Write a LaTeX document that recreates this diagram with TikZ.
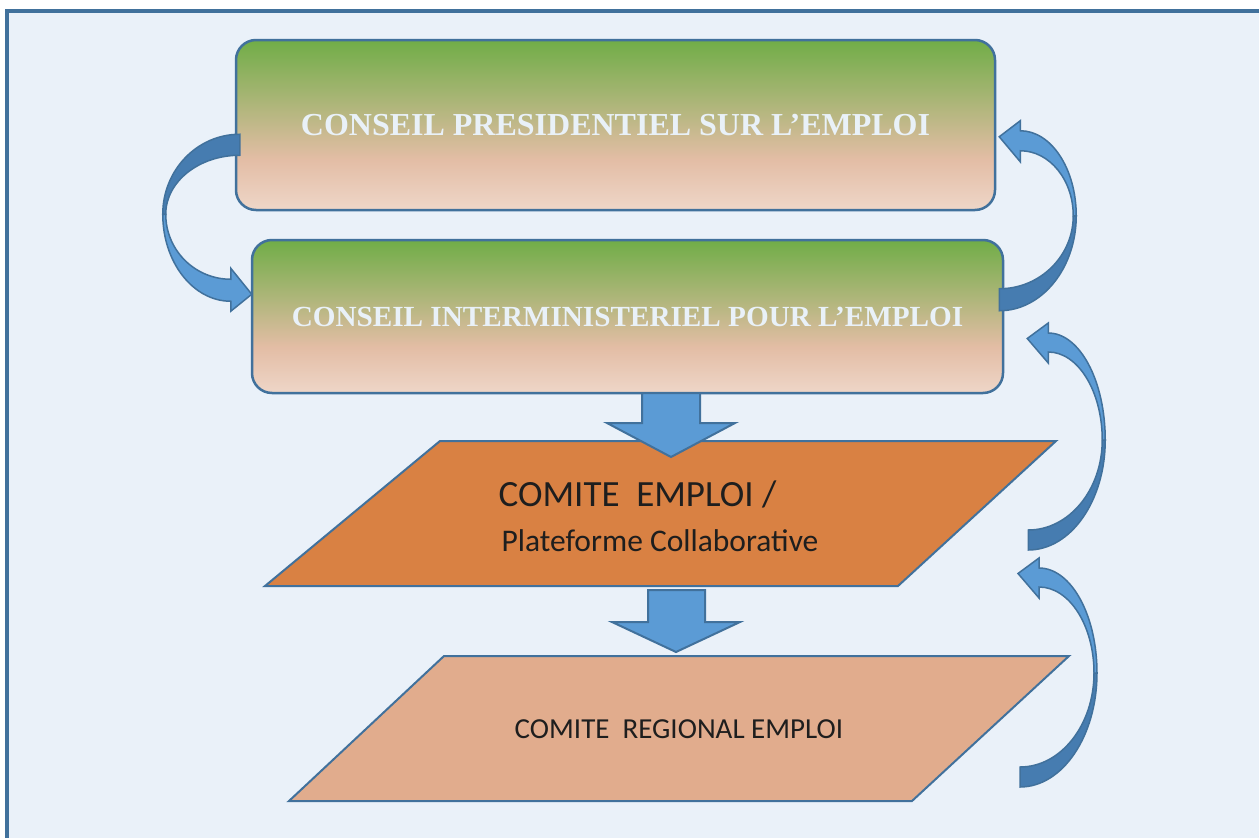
\documentclass[tikz,border=0pt]{standalone}
\usepackage{fontspec}
\setmainfont{Liberation Serif}
\newfontfamily\calibri{Carlito}
\usetikzlibrary{calc}

\definecolor{framefill}{RGB}{234,241,249}
\definecolor{lineblue}{RGB}{65,113,156}
\definecolor{arrowblue}{RGB}{91,155,213}
\definecolor{arrowshade}{RGB}{70,124,176}
\definecolor{leafgreen}{RGB}{112,173,71}
\definecolor{peach}{RGB}{227,189,165}
\definecolor{peachpale}{RGB}{238,214,200}
\definecolor{orangefill}{RGB}{217,129,67}
\definecolor{tanfill}{RGB}{225,172,141}
\definecolor{titlewhite}{RGB}{233,241,248}
\definecolor{textdark}{RGB}{30,30,30}

\pgfdeclareverticalshading{greenpeach}{100bp}{color(0bp)=(peachpale); color(25bp)=(peachpale); color(40bp)=(peach); color(75bp)=(leafgreen); color(100bp)=(leafgreen)}

\tikzset{
  titlebox/.style={draw=lineblue, line width=2.5, rounded corners=20, shading=greenpeach,
    text=titlewhite, font=\bfseries},
  blockarrow/.style={fill=arrowblue, draw=lineblue, line width=2},
  % curved block arrow: #1/#2 outer/inner radius of the tail half,
  % #3/#4 outer/inner radius of the head half, #5 offset of the head base
  pics/bentarrow/.style n args={5}{code={
    \filldraw[fill=arrowshade, draw=lineblue, line width=1.5] (0,#1) arc[start angle=90, end angle=0, x radius=77, y radius=#1] -- (74,0) arc[start angle=0, end angle=90, x radius=74, y radius=#2] -- cycle;
    \filldraw[fill=arrowblue, draw=lineblue, line width=1.5] (77,0) arc[start angle=0, end angle=-90, x radius={77-#5}, y radius=#3] -- (#5,-#3-10) -- (#5-21,{-(#3+#4)/2-4}) -- (#5,-#4+11) -- (#5,-#4) arc[start angle=-90, end angle=0, x radius={74-#5}, y radius=#4] -- cycle;
  }}
}

\begin{document}
\begin{tikzpicture}[x=1pt,y=1pt,yscale=-1]
\useasboundingbox (0,0) rectangle (1259,838);

%Shape: Frame
\draw[draw=lineblue, line width=3.5, fill=framefill] (7,11) rectangle (1275,850);

%Shape: Rounded Rectangles
\node[titlebox, minimum width=759, minimum height=170, font=\bfseries\fontsize{32}{38}\selectfont] (cpe) at (615.5,125) {CONSEIL PRESIDENTIEL SUR L’EMPLOI};
\node[titlebox, minimum width=751, minimum height=153, font=\bfseries\fontsize{29.2}{35}\selectfont] (cip) at (627.5,316.5) {CONSEIL INTERMINISTERIEL POUR L’EMPLOI};

%Shape: Parallelograms
\draw[draw=lineblue, line width=2, fill=orangefill] (440,441) -- (1056,441) -- (898,586) -- (265,586) -- cycle;
\draw[draw=lineblue, line width=2, fill=tanfill] (444,656) -- (1069,656) -- (912,801) -- (289,801) -- cycle;

%Shape: Down Arrows
\filldraw[blockarrow] (642,393) -- (700,393) -- (700,423) -- (735,423) -- (671,457) -- (607,423) -- (642,423) -- cycle;
\filldraw[blockarrow] (648,590) -- (705,590) -- (705,622) -- (740,622) -- (676,652) -- (612,622) -- (648,622) -- cycle;

% Text Node
\node[font=\calibri\fontsize{37}{42}\selectfont, text=textdark] (ce) at (637.5,494) {COMITE\ \ EMPLOI /};
% Text Node
\node[font=\calibri\fontsize{31.5}{36}\selectfont, text=textdark] (pc) at (660,541) {Plateforme Collaborative};
% Text Node
\node[font=\calibri\fontsize{29}{34}\selectfont, text=textdark] (cre) at (679,729) {COMITE\ \ REGIONAL EMPLOI};

%Shape: Curved Arrows (pics do not take the picture's yscale, so flip them here)
\pic[rotate=180, yscale=-1] at ($(cpe.south west)+(5,3)$) {bentarrow={80}{59}{87}{65}{9}};
\pic[yscale=-1] at ($(cip.north east)+(-5,-23)$) {bentarrow={95}{73}{85}{65}{21}};
\pic[yscale=-1] at ($(cip.east)+(24,123.5)$) {bentarrow={110}{90}{107}{88}{20}};
\pic[yscale=-1] at (1020,673) {bentarrow={114}{94}{105}{86}{19}};

\end{tikzpicture}
\end{document}
